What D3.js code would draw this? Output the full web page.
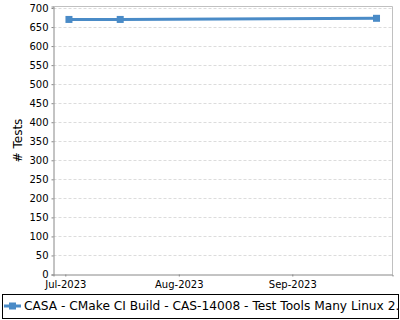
<!DOCTYPE html>
<html>
<head>
<meta charset="utf-8">
<script src="https://cdn.jsdelivr.net/npm/d3@7"></script>
<style>
  body { margin: 0; background: #fff; }
  svg { display: block; font-family: "DejaVu Sans", sans-serif; }
</style>
</head>
<body>
<div id="chart"></div>
<script>
// Data
const dates = ["2023-07-02", "2023-07-16", "2023-09-24"];
const tests = [670, 670, 673];
const seriesName = "CASA - CMake CI Build - CAS-14008 - Test Tools Many Linux 2.";
const yTicks = [0, 50, 100, 150, 200, 250, 300, 350, 400, 450, 500, 550, 600, 650, 700];
const xTicks = ["2023-07-01", "2023-08-01", "2023-09-01"];

const parse = d3.timeParse("%Y-%m-%d");
const data = dates.map((d, i) => ({ date: parse(d), value: tests[i] }));

const W = 400, H = 320;
const plot = { left: 53.5, right: 392.5, top: 6.5, bottom: 274.5 };
const color = "#4a8bc7";

const svg = d3.select("#chart").append("svg")
    .attr("width", W)
    .attr("height", H);

// Time scale: Jul-1 sits at ~65px, Sep-1 at ~292px
const xFit = d3.scaleTime()
    .domain([parse("2023-07-01"), parse("2023-09-01")])
    .range([65.3, 292.3]);
const x = d3.scaleTime()
    .domain([xFit.invert(plot.left), xFit.invert(plot.right)])
    .range([plot.left, plot.right]);

const y = d3.scaleLinear()
    .domain([0, 704])
    .range([plot.bottom, plot.top]);

// Gridlines
svg.append("g")
    .selectAll("line")
    .data(yTicks.filter(d => d > 0))
    .join("line")
    .attr("x1", plot.left)
    .attr("x2", plot.right)
    .attr("y1", d => Math.round(y(d)) + 0.5)
    .attr("y2", d => Math.round(y(d)) + 0.5)
    .attr("stroke", "#dcdcdc")
    .attr("stroke-dasharray", "3,2");

// Plot border (top/right light grey)
svg.append("path")
    .attr("d", `M${plot.left},${plot.top}H${plot.right}V${plot.bottom}`)
    .attr("fill", "none")
    .attr("stroke", "#c0c0c0");

// Axes
const yAxis = svg.append("g")
    .attr("transform", `translate(${plot.left},0)`)
    .call(d3.axisLeft(y).tickValues(yTicks).tickSize(2).tickPadding(3));

const xAxis = svg.append("g")
    .attr("transform", `translate(0,${plot.bottom})`)
    .call(d3.axisBottom(x)
        .tickValues(xTicks.map(parse))
        .tickFormat(d3.timeFormat("%b-%Y"))
        .tickSize(2).tickPadding(4));

[yAxis, xAxis].forEach(a => {
    a.select(".domain").attr("stroke", "#888");
    a.selectAll(".tick line").attr("stroke", "#888");
    a.selectAll("text")
        .attr("fill", "#000")
        .style("font-family", "DejaVu Sans")
        .style("font-size", "10px");
});

// Y axis title
svg.append("text")
    .attr("transform", `translate(22,${(plot.top + plot.bottom) / 2}) rotate(-90)`)
    .attr("text-anchor", "middle")
    .style("font-size", "12px")
    .text("# Tests");

// Line
svg.append("path")
    .datum(data)
    .attr("fill", "none")
    .attr("stroke", color)
    .attr("stroke-width", 3)
    .attr("d", d3.line().x(d => x(d.date)).y(d => y(d.value)));

// Markers
svg.append("g")
    .selectAll("rect")
    .data(data)
    .join("rect")
    .attr("x", d => x(d.date) - 3.5)
    .attr("y", d => y(d.value) - 3.5)
    .attr("width", 7)
    .attr("height", 7)
    .attr("fill", color);

// Legend (text is clipped at the box edge, as in the original)
const legend = svg.append("g");
legend.append("clipPath")
    .attr("id", "legend-clip")
    .append("rect")
    .attr("x", 2.5).attr("y", 294.5)
    .attr("width", 396).attr("height", 24);

legend.append("rect")
    .attr("x", 2.5).attr("y", 294.5)
    .attr("width", 396).attr("height", 24)
    .attr("fill", "#fff")
    .attr("stroke", "#000");

const lg = legend.append("g").attr("clip-path", "url(#legend-clip)");
lg.append("line")
    .attr("x1", 4).attr("x2", 21)
    .attr("y1", 306).attr("y2", 306)
    .attr("stroke", color)
    .attr("stroke-width", 3);
lg.append("rect")
    .attr("x", 9).attr("y", 302.5)
    .attr("width", 7).attr("height", 7)
    .attr("fill", color);
lg.append("text")
    .attr("x", 24)
    .attr("y", 310)
    .style("font-size", "12.2px")
    .text(seriesName);
</script>
</body>
</html>
